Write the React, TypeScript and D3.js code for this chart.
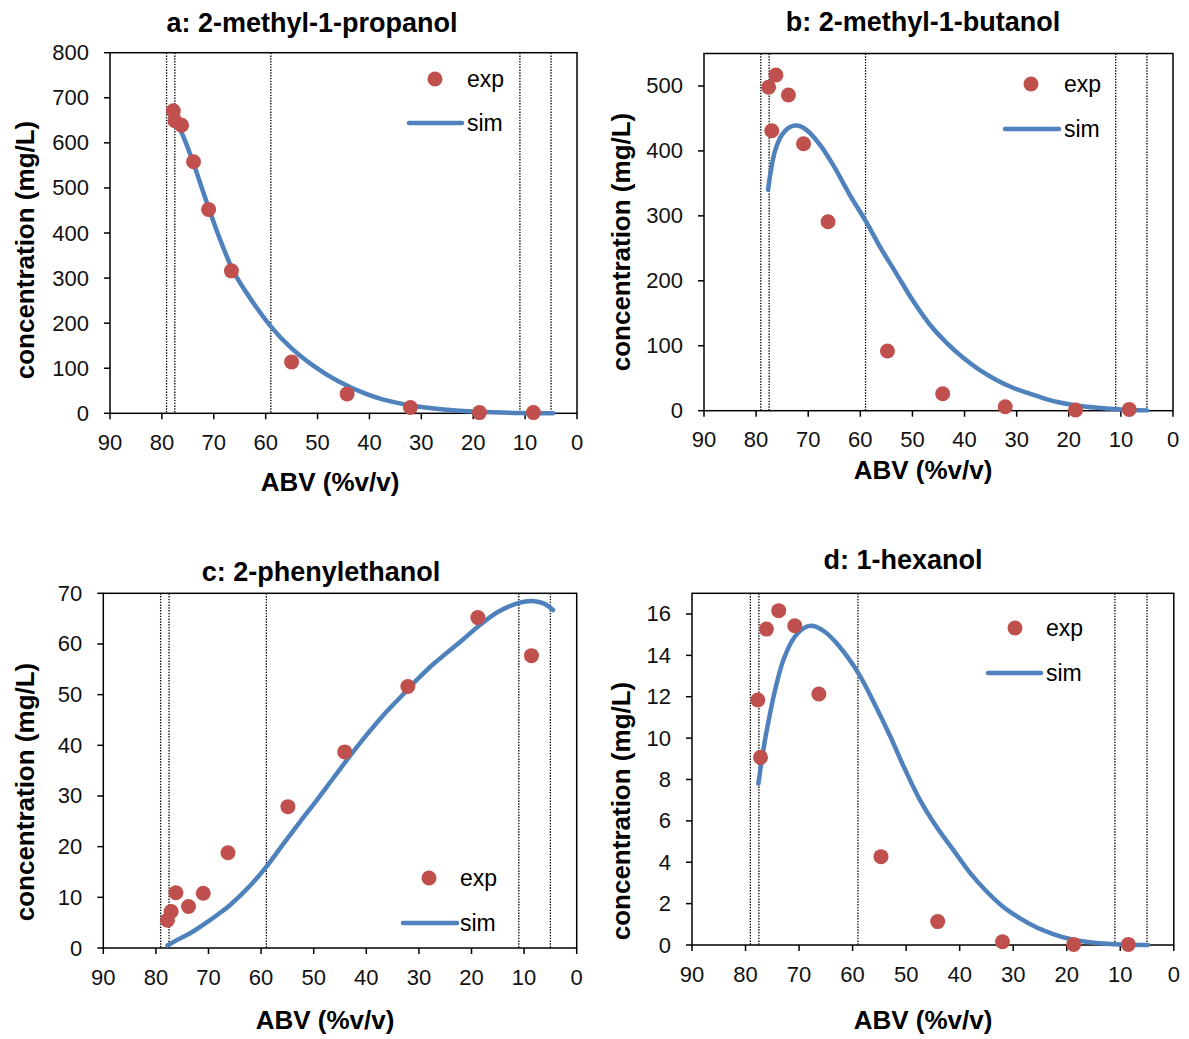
import React from "react";
import * as d3 from "d3";

// shared axis values
const abvTicks = [90, 80, 70, 60, 50, 40, 30, 20, 10, 0];
const cutAbv = [79.1, 77.5, 59, 11, 5];

// a: 2-methyl-1-propanol
const propanolExpAbv = [77.8, 77.5, 76.2, 73.9, 71.0, 66.6, 55.0, 44.3, 32.1, 18.8, 8.4];
const propanolExp = [671, 649, 639, 558, 452, 316, 114, 43, 13, 1.5, 1.5];
const propanolSimAbv = [77.2, 75.5, 73.9, 72.3, 71.0, 69.1, 67.8, 65.9, 59.1, 55.0, 50.5, 46.0, 40.9, 37.5, 32.2, 25.7, 18.9, 11.1, 4.6];
const propanolSim = [648, 604, 554, 500, 456, 395, 357, 308, 194, 144, 103, 71, 44, 31, 18, 8.5, 3.5, 0.8, 0];
const propanolTicks = [0, 100, 200, 300, 400, 500, 600, 700, 800];

// b: 2-methyl-1-butanol
const butanolExpAbv = [77.6, 77.0, 76.2, 73.8, 70.9, 66.2, 54.8, 44.2, 32.2, 18.7, 8.4];
const butanolExp = [498, 431, 517, 486, 411, 291, 92, 26, 6, 1, 2];
const butanolSimAbv = [77.7, 77.2, 76.4, 75.1, 73.5, 72.1, 70.3, 67.7, 65.2, 62.0, 58.9, 56.2, 53.0, 49.8, 46.6, 43.4, 40.2, 37.0, 33.8, 30.6, 27.4, 24.2, 21.0, 17.9, 14.6, 12.1, 9.0, 5.0];
const butanolSim = [340, 368, 399, 424, 437, 439, 432, 409, 378, 332, 291, 252, 210, 168, 132, 104, 81, 62, 47, 35, 26, 17.5, 11.4, 7.2, 4.6, 3.2, 1.6, 0.5];
const butanolTicks = [0, 100, 200, 300, 400, 500];

// c: 2-phenylethanol
const phenylExpAbv = [77.8, 77.1, 76.2, 73.8, 71.0, 66.3, 54.9, 44.1, 32.1, 18.8, 8.6];
const phenylExp = [5.5, 7.2, 10.9, 8.2, 10.8, 18.8, 27.9, 38.7, 51.6, 65.2, 57.7];
const phenylSimAbv = [77.8, 75.4, 73.5, 71.1, 67.2, 66.0, 62.1, 59.1, 55.8, 52.6, 49.4, 46.3, 43.1, 39.9, 36.8, 33.6, 30.4, 27.3, 21.6, 18.8, 15.0, 11.0, 8.5, 6.3, 4.5];
const phenylSim = [0.5, 1.9, 2.9, 4.5, 7.4, 8.4, 12.3, 15.9, 20.5, 24.9, 29.2, 33.5, 37.9, 42.1, 45.9, 49.4, 52.9, 56.0, 60.9, 63.4, 66.3, 68.1, 68.5, 68.0, 66.7];
const phenylTicks = [0, 10, 20, 30, 40, 50, 60, 70];

// d: 1-hexanol
const hexanolExpAbv = [77.7, 77.2, 76.1, 73.8, 70.8, 66.3, 54.7, 44.1, 32.0, 18.7, 8.5];
const hexanolExp = [11.84, 9.07, 15.27, 16.16, 15.43, 12.13, 4.27, 1.13, 0.16, 0.03, 0.03];
const hexanolSimAbv = [77.6, 76.7, 75.8, 74.5, 72.9, 70.8, 68.9, 67.3, 65.2, 62.7, 58.9, 55.8, 53.0, 50.5, 47.4, 44.3, 41.2, 38.1, 35.0, 31.9, 28.7, 25.6, 22.5, 19.4, 15.7, 11.9, 4.8];
const hexanolSim = [7.8, 9.4, 10.7, 12.3, 13.8, 14.9, 15.35, 15.42, 15.14, 14.5, 13.13, 11.6, 10.1, 8.65, 7.0, 5.7, 4.6, 3.5, 2.6, 1.85, 1.29, 0.85, 0.53, 0.29, 0.13, 0.05, 0];
const hexanolTicks = [0, 2, 4, 6, 8, 10, 12, 14, 16];

const FONT = "'Liberation Sans', Arial, Helvetica, sans-serif";
const RED = "#C0504D";
const BLUE = "#4F81BD";

const panels = [
  {
    title: "a: 2-methyl-1-propanol",
    expAbv: propanolExpAbv, exp: propanolExp, simAbv: propanolSimAbv, sim: propanolSim,
    yMax: 800, yTicks: propanolTicks,
    box: { left: 110, right: 577, top: 52.7, bottom: 413.3 },
    titlePos: [312, 23], yLabelPos: [25, 250], xLabelPos: [330, 482],
    legend: { dot: [435, 79], lineX: [409, 462], lineY: 123, textX: 467 },
  },
  {
    title: "b: 2-methyl-1-butanol",
    expAbv: butanolExpAbv, exp: butanolExp, simAbv: butanolSimAbv, sim: butanolSim,
    yMax: 550, yTicks: butanolTicks,
    box: { left: 704, right: 1173, top: 53.5, bottom: 410.7 },
    titlePos: [923, 22], yLabelPos: [621, 242], xLabelPos: [923, 470],
    legend: { dot: [1031, 84], lineX: [1005, 1059], lineY: 129, textX: 1064 },
  },
  {
    title: "c: 2-phenylethanol",
    expAbv: phenylExpAbv, exp: phenylExp, simAbv: phenylSimAbv, sim: phenylSim,
    yMax: 70, yTicks: phenylTicks,
    box: { left: 103.3, right: 576.7, top: 593.3, bottom: 948 },
    titlePos: [321, 572], yLabelPos: [25, 792], xLabelPos: [325, 1020],
    legend: { dot: [429, 878], lineX: [403, 457], lineY: 923, textX: 460 },
  },
  {
    title: "d: 1-hexanol",
    expAbv: hexanolExpAbv, exp: hexanolExp, simAbv: hexanolSimAbv, sim: hexanolSim,
    yMax: 17, yTicks: hexanolTicks,
    box: { left: 692, right: 1173.8, top: 593.3, bottom: 945 },
    titlePos: [903, 560], yLabelPos: [621, 811], xLabelPos: [923, 1020],
    legend: { dot: [1015, 628], lineX: [988, 1041], lineY: 673, textX: 1046 },
  },
];

const Panel = ({ p }: { p: (typeof panels)[number] }) => {
  const { box } = p;
  const x = d3.scaleLinear().domain([90, 0]).range([box.left, box.right]);
  const y = d3.scaleLinear().domain([0, p.yMax]).range([box.bottom, box.top]);

  const simPts: [number, number][] = p.simAbv.map((a, i) => [a, p.sim[i]]);
  const line = d3
    .line<[number, number]>()
    .x((d) => x(d[0]))
    .y((d) => y(d[1]))
    .curve(d3.curveCatmullRom.alpha(0.5));

  return (
    <g fontFamily={FONT}>
      <text x={p.titlePos[0]} y={p.titlePos[1]} textAnchor="middle" dominantBaseline="central" fontSize={27} fontWeight="bold">
        {p.title}
      </text>

      {/* cut points */}
      {cutAbv.map((c) => (
        <line key={c} x1={x(c)} x2={x(c)} y1={box.top} y2={box.bottom} stroke="#000" strokeWidth={1.3} strokeDasharray="1.4,1.4" />
      ))}

      <rect x={box.left} y={box.top} width={box.right - box.left} height={box.bottom - box.top} fill="none" stroke="#000" strokeWidth={1.5} />

      {/* y axis */}
      {p.yTicks.map((t) => (
        <g key={t}>
          <line x1={box.left - 6} x2={box.left} y1={y(t)} y2={y(t)} stroke="#000" strokeWidth={1.5} />
          <text x={box.left - 21} y={y(t)} textAnchor="end" dominantBaseline="central" fontSize={22} fill="#111">
            {t}
          </text>
        </g>
      ))}
      {/* x axis */}
      {abvTicks.map((t) => (
        <g key={t}>
          <line x1={x(t)} x2={x(t)} y1={box.bottom} y2={box.bottom + 6} stroke="#000" strokeWidth={1.5} />
          <text x={x(t)} y={box.bottom + 29} textAnchor="middle" dominantBaseline="central" fontSize={22} fill="#111">
            {t}
          </text>
        </g>
      ))}

      <path d={line(simPts) ?? ""} fill="none" stroke={BLUE} strokeWidth={4.5} strokeLinecap="round" />
      {p.expAbv.map((a, i) => (
        <circle key={i} cx={x(a)} cy={y(p.exp[i])} r={7.5} fill={RED} />
      ))}

      {/* legend */}
      <circle cx={p.legend.dot[0]} cy={p.legend.dot[1]} r={7.5} fill={RED} />
      <text x={p.legend.textX} y={p.legend.dot[1]} dominantBaseline="central" fontSize={23}>
        exp
      </text>
      <line x1={p.legend.lineX[0]} x2={p.legend.lineX[1]} y1={p.legend.lineY} y2={p.legend.lineY} stroke={BLUE} strokeWidth={4.5} strokeLinecap="round" />
      <text x={p.legend.textX} y={p.legend.lineY} dominantBaseline="central" fontSize={23}>
        sim
      </text>

      <text x={p.xLabelPos[0]} y={p.xLabelPos[1]} textAnchor="middle" dominantBaseline="central" fontSize={26} fontWeight="bold">
        ABV (%v/v)
      </text>
      <text
        transform={`translate(${p.yLabelPos[0]},${p.yLabelPos[1]}) rotate(-90)`}
        textAnchor="middle"
        dominantBaseline="central"
        fontSize={26}
        fontWeight="bold"
      >
        concentration (mg/L)
      </text>
    </g>
  );
};

export default function App() {
  return (
    <svg width={1189} height={1039} style={{ position: "absolute", left: 0, top: 0, background: "#fff" }}>
      <rect width={1189} height={1039} fill="#fff" />
      {panels.map((p) => (
        <Panel key={p.title} p={p} />
      ))}
    </svg>
  );
}
